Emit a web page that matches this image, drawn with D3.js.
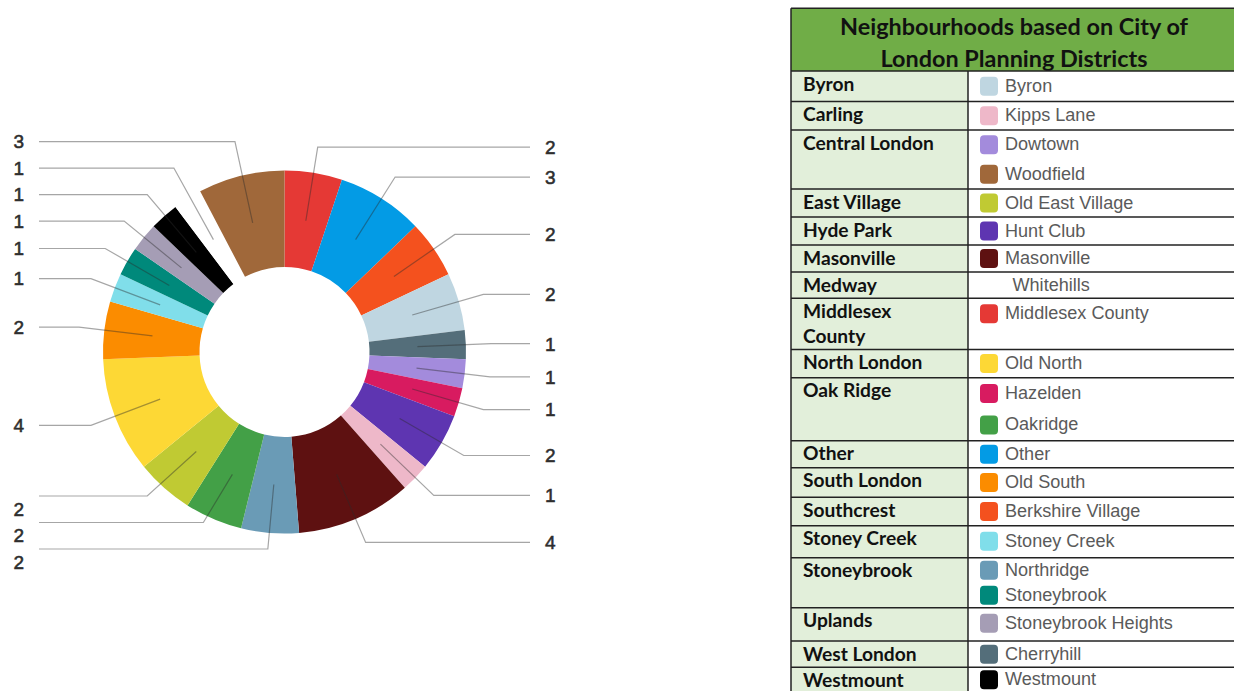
<!DOCTYPE html>
<html><head><meta charset="utf-8">
<script src="https://cdn.jsdelivr.net/npm/d3@7"></script>
<style>html,body{margin:0;padding:0;background:#fff;} svg{display:block}</style>
</head><body>
<svg id="chart" width="1234" height="691"></svg>
<script>
// ---------- DATA ----------
const neighbourhoods = ["Middlesex County","Other","Berkshire Village","Byron","Cherryhill","Dowtown","Hazelden","Hunt Club","Kipps Lane","Masonville","Northridge","Oakridge","Old East Village","Old North","Old South","Stoney Creek","Stoneybrook","Stoneybrook Heights","Westmount","Whitehills","Woodfield"];
const counts = [2,3,2,2,1,1,1,2,1,4,2,2,2,4,2,1,1,1,1,1,3];
const sliceColors = ["#e53935","#039be5","#f4511e","#bfd6e1","#546e7a","#a38bdc","#d81b60","#5e35b1","#eeb8c9","#5e1111","#6a9bb6","#43a047","#c0ca33","#fdd835","#fb8c00","#80deea","#00897b","#a59db5","#000000","#ffffff","#a0683a"];

const tableTitle = ["Neighbourhoods based on City of","London Planning Districts"];
const districts = ["Byron","Carling","Central London","East Village","Hyde Park","Masonville","Medway","Middlesex County","North London","Oak Ridge","Other","South London","Southcrest","Stoney Creek","Stoneybrook","Uplands","West London","Westmount"];
const districtMembers = [["Byron"],["Kipps Lane"],["Dowtown","Woodfield"],["Old East Village"],["Hunt Club"],["Masonville"],["Whitehills"],["Middlesex County"],["Old North"],["Hazelden","Oakridge"],["Other"],["Old South"],["Berkshire Village"],["Stoney Creek"],["Northridge","Stoneybrook"],["Stoneybrook Heights"],["Cherryhill"],["Westmount"]];

// ---------- LAYOUT ----------
const cx = 284.5, cy = 352, rIn = 85, rOut = 181.5, rMid = 133, rElbow = 207;
const rowEdges = [71,101.5,130,189,217,245,272,298.3,349.5,377.7,440.7,467.8,497.3,525.7,557.7,607.7,641,667.3,692];

const svg = d3.select("#chart");

function fitFont(text, family, weight, target){
  const t = svg.append("text").attr("font-family",family).attr("font-weight",weight).attr("font-size",100).text(text);
  const w = t.node().getComputedTextLength(); t.remove();
  return 100*target/w;
}

// ---------- DONUT ----------
const data = neighbourhoods.map((n,i)=>({name:n, count:counts[i]}));
const color = d3.scaleOrdinal().domain(neighbourhoods).range(sliceColors);
const pie = d3.pie().sort(null).value(d=>d.count);
const arcs = pie(data);
const arc = d3.arc().innerRadius(rIn).outerRadius(rOut);
const midArc = d3.arc().innerRadius(rMid).outerRadius(rMid);

const g = svg.append("g").attr("transform",`translate(${cx},${cy})`);
g.selectAll("path.slice").data(arcs).join("path")
  .attr("class","slice").attr("d",arc).attr("fill",d=>color(d.data.name));

// label positions
const labels = arcs.map(d=>{
  const a = (d.startAngle+d.endAngle)/2;
  const c = midArc.centroid(d);
  return {d, a, right: a < Math.PI, sx:c[0], sy:c[1],
          ex: rElbow*Math.sin(a), ey: -rElbow*Math.cos(a), shifted:false};
});
labels.forEach(l=>{ l.ly = l.ey; });
function relax(list, gap, bottom){
  list.sort((a,b)=>b.ly-a.ly);
  let limit = bottom, chain = true;
  list.forEach(l=>{
    if(l.ly > limit){ l.ly = limit; l.shifted = chain; } else { chain = false; }
    limit = l.ly - gap;
  });
}
relax(labels.filter(l=>l.right), 30, 549-cy);
relax(labels.filter(l=>!l.right), 26.5, 549-cy);

const lineEndR = 530-cx, lineEndL = 39-cx;
g.selectAll("polyline.leader").data(labels).join("polyline")
  .attr("class","leader")
  .attr("points",l=>[[l.sx,l.sy],[l.ex,l.ly],[l.right?lineEndR:lineEndL,l.ly]].map(p=>p.join(",")).join(" "))
  .attr("fill","none").attr("stroke","#2b2b2b").attr("stroke-opacity",0.42).attr("stroke-width",1.2);

g.selectAll("text.val").data(labels).join("text")
  .attr("class","val")
  .attr("x",l=>l.right? 545-cx : 24-cx)
  .attr("y",l=>l.ly + (l.shifted?13:0))
  .attr("dy","0.36em")
  .attr("text-anchor",l=>l.right?"start":"end")
  .attr("font-family","'Liberation Sans', Arial, sans-serif")
  .attr("font-size",19).attr("fill","#2e2e2e")
  .attr("stroke","#2e2e2e").attr("stroke-width",0.55)
  .text(l=>l.d.data.count);

// ---------- TABLE ----------
const tx0 = 791, tx1 = 968, tx2 = 1240, ttop = 8.3;
const headFs = fitFont(tableTitle[0],"Lato","700",348);
const leftFs = fitFont("Central London","Lato","700",131);
const rightFs = fitFont("Stoneybrook Heights","'Liberation Sans', Arial, sans-serif","400",168);

const tg = svg.append("g");
tg.append("rect").attr("x",tx0).attr("y",ttop).attr("width",tx2-tx0).attr("height",rowEdges[0]-ttop).attr("fill","#70ad47");
tg.selectAll("text.title").data(tableTitle).join("text").attr("class","title")
  .attr("x",1014).attr("y",(d,i)=>35+i*31.5).attr("text-anchor","middle")
  .attr("font-family","Lato").attr("font-weight",700).attr("font-size",headFs).attr("fill","#111").text(d=>d);

const rows = districts.map((d,i)=>({district:d, members:districtMembers[i], top:rowEdges[i], bottom:rowEdges[i+1]}));
const rg = tg.selectAll("g.row").data(rows).join("g").attr("class","row");
rg.append("rect").attr("x",tx0).attr("y",r=>r.top).attr("width",tx1-tx0).attr("height",r=>r.bottom-r.top).attr("fill","#e2efda");
rg.append("rect").attr("x",tx1).attr("y",r=>r.top).attr("width",tx2-tx1).attr("height",r=>r.bottom-r.top).attr("fill","#fff");

rg.each(function(r){
  const sel = d3.select(this);
  const t = sel.append("text").attr("x",803).attr("y",r.top+19.5)
    .attr("font-family","Lato").attr("font-weight",700).attr("font-size",leftFs).attr("fill","#111");
  const words = r.district.split(" ");
  let line = [];
  let ts = t.append("tspan").attr("x",803).attr("dy",0);
  words.forEach(w=>{
    line.push(w); ts.text(line.join(" "));
    if(ts.node().getComputedTextLength() > 140 && line.length>1){
      line.pop(); ts.text(line.join(" ")); line=[w];
      ts = t.append("tspan").attr("x",803).attr("dy",25).text(w);
    }
  });
  const n = r.members.length, h = r.bottom - r.top;
  r.members.forEach((m,i)=>{
    const by = n===1 ? r.top + Math.min(h/2+5.5, 21) : r.top + h*(2*i+1)/(2*n) + 5.5;
    const c = color(m);
    sel.append("rect").attr("x",980).attr("y",by-15).attr("width",18).attr("height",19).attr("rx",4)
      .attr("fill",c);
    sel.append("text").attr("x", c==="#ffffff" ? 1012.5 : 1005).attr("y",by)
      .attr("font-family","'Liberation Sans', Arial, sans-serif").attr("font-size",rightFs).attr("fill","#5a5a5a").text(m);
  });
});

// grid lines
tg.selectAll("line.h").data([ttop].concat(rowEdges.slice(0,-1))).join("line").attr("class","h")
  .attr("x1",tx0).attr("x2",tx2).attr("y1",d=>d).attr("y2",d=>d).attr("stroke","#222").attr("stroke-width",1.5);
tg.append("line").attr("x1",tx0).attr("x2",tx0).attr("y1",ttop).attr("y2",700).attr("stroke","#222").attr("stroke-width",1.5);
tg.append("line").attr("x1",tx1).attr("x2",tx1).attr("y1",rowEdges[0]).attr("y2",700).attr("stroke","#222").attr("stroke-width",1.5);
</script>
</body></html>
